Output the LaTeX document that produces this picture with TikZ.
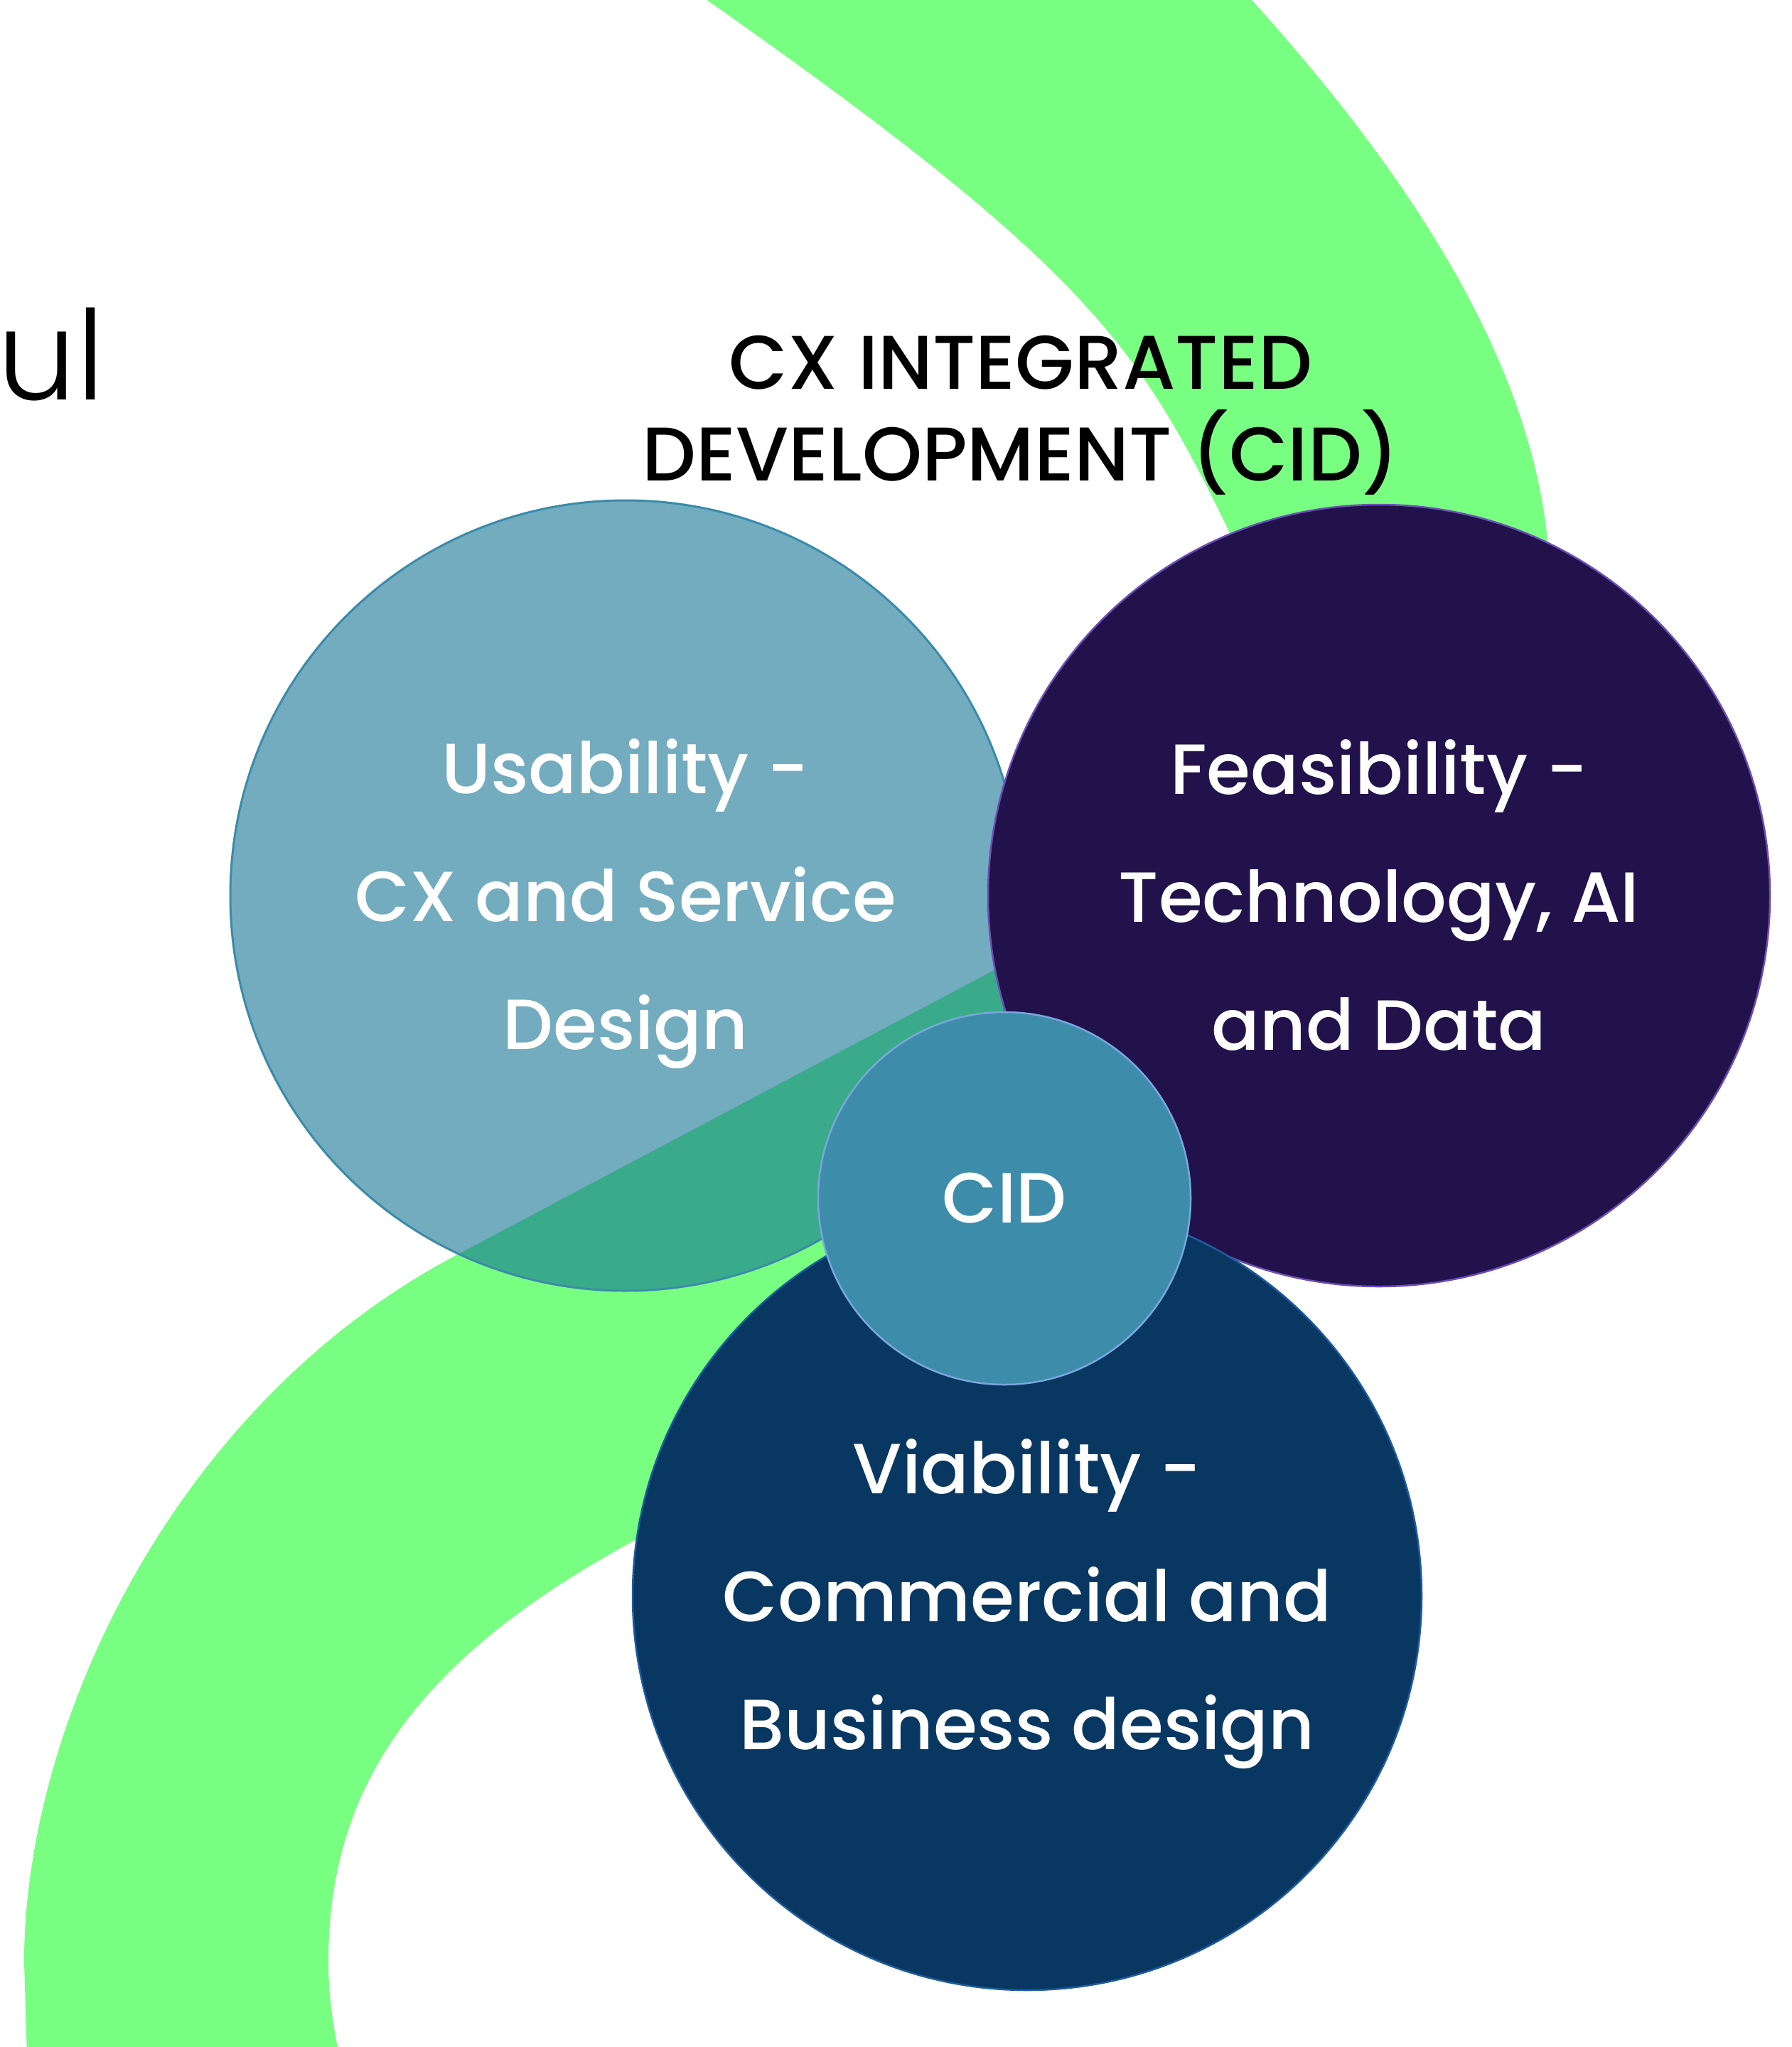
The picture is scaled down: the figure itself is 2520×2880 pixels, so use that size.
\documentclass[tikz,border=0pt]{standalone}
\usepackage{fontspec}
\setmainfont{Poppins}
\newfontfamily\popmed{Poppins Medium}
\newfontfamily\poplight{Poppins Light}
\newcommand{\topstrut}{\rule{0pt}{100pt}}
\newcommand{\botstrut}{\rule[-26pt]{0pt}{26pt}}
\definecolor{ribbon}{HTML}{78FE81}
\definecolor{usafill}{HTML}{107291}
\definecolor{usaline}{HTML}{3A8BAA}
\definecolor{feafill}{HTML}{22124B}
\definecolor{fealine}{HTML}{6B4FB5}
\definecolor{viafill}{HTML}{083862}
\definecolor{vialine}{HTML}{1F5C9E}
\definecolor{cidfill}{HTML}{3D8CAA}
\definecolor{cidline}{HTML}{7AA7DC}
\begin{document}
\begin{tikzpicture}[x=1pt,y=-1pt,
  bigcircle/.style={circle, inner sep=0pt, line width=3pt, text=white, align=center,
    font=\popmed\fontsize{100}{180}\selectfont},
  titletext/.style={align=center, inner sep=0pt, text=black, font=\popmed\fontsize{107}{129}\selectfont},
  sidetext/.style={inner sep=0pt, text=black, font=\poplight\fontsize{175}{200}\selectfont}]
\useasboundingbox (0,0) rectangle (2520,2880);
\clip (0,0) rectangle (2520,2880);
% green ribbon
\fill[ribbon] (40,2960) -- (34,2760)
  .. controls (34,2430) and (242,1979) .. (638,1768)
  -- (1402,1363)
  .. controls (1711,1199) and (1876,1047) .. (1722,733)
  .. controls (1590,464) and (1510,352) .. (850,-100)
  -- (1670,-100) -- (1761,0)
  .. controls (2042,311) and (2170,570) .. (2180,800)
  .. controls (2198,1170) and (1934,1606) .. (1621,1772)
  -- (893,2167)
  .. controls (591,2331) and (462,2509) .. (462,2760)
  .. controls (462,2840) and (480,2900) .. (492,2960)
  -- cycle;
% side text
\node[sidetext, anchor=base east] (ful) at (148,562) {ful};
% title
\node[titletext] (title) at (1436,584) {CX INTEGRATED\\DEVELOPMENT (CID)};
% circles
\node[bigcircle, minimum size=1112pt, fill=usafill, fill opacity=0.59, text opacity=1, draw=usaline, draw opacity=1] (usab) at (880,1260) {\topstrut Usability -\\CX and Service\\Design\botstrut};
\node[bigcircle, minimum size=1100pt, fill=feafill, draw=fealine, line width=2.5pt] (feas) at (1940,1260) {\topstrut Feasibility -\\Technology, AI\\and Data\botstrut};
\node[bigcircle, minimum size=1110pt, fill=viafill, draw=vialine, line width=2.5pt] (viab) at (1445,2245) {\topstrut Viability -\\Commercial and\\Business design\botstrut};
\node[bigcircle, minimum size=524pt, fill=cidfill, draw=cidline, line width=2.5pt] (cid) at (1413,1686) {CID};
\end{tikzpicture}
\end{document}
